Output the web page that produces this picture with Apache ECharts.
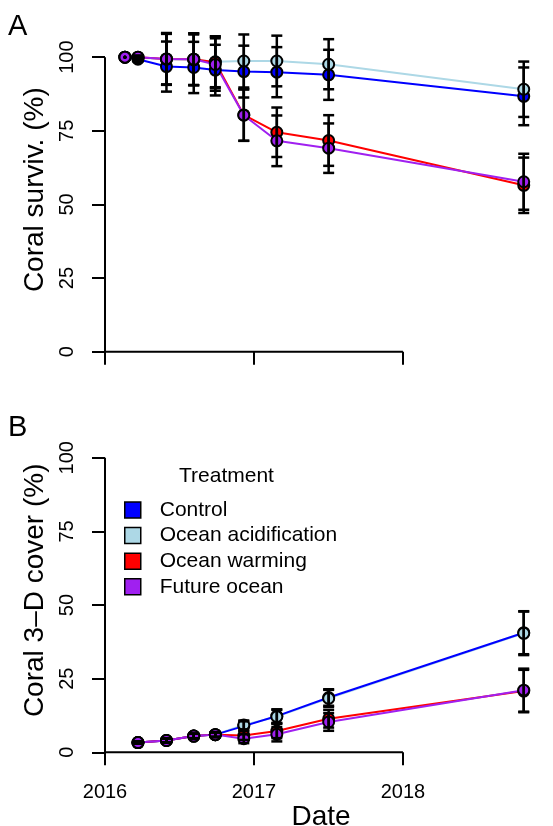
<!DOCTYPE html>
<html>
<head>
<meta charset="utf-8">
<script src="https://cdn.jsdelivr.net/npm/echarts@6/dist/echarts.min.js"></script>
<style>
  html, body { margin: 0; padding: 0; background: #fff; }
  #chart { width: 553px; height: 826px; }
</style>
</head>
<body>
<div id="chart"></div>
<script>
// Sampling dates of the experiment
const sampleDates = ['2016-02-19', '2016-03-22', '2016-05-31', '2016-08-06', '2016-09-28',
                     '2016-12-07', '2017-02-26', '2017-07-03', '2018-10-24'];

const treatments = ['Control', 'Ocean acidification', 'Ocean warming', 'Future ocean'];
const treatmentColors = ['#0000ff', '#add8e6', '#ff0000', '#a020f0'];

// Panel A: coral survival (%) – means and standard errors
const survControl   = [100, 99.3, 96.8, 96.5, 95.6, 95.1, 94.9, 94.0, 86.7];
const survAcid      = [100, 99.8, 99.3, 99.1, 98.4, 98.7, 98.7, 97.6, 89.1];
const survWarm      = [100, 100, 99.4, 99.3, 98.3, 80.4, 74.5, 71.7, 56.5];
const survFuture    = [100, 100, 99.4, 99.3, 97.5, 80.3, 71.6, 69.1, 57.7];
const survControlSe = [0, 0.7, 8.5, 8.7, 8.6, 8.8, 8.5, 8.5, 9.8];
const survAcidSe    = [0, 0.5, 8.6, 8.6, 8.6, 9.0, 8.6, 8.5, 9.4];
const survWarmSe    = [0, 0.5, 8.7, 8.8, 8.8, 8.8, 8.4, 8.6, 9.4];
const survFutureSe  = [0, 0.5, 8.8, 8.8, 8.9, 8.7, 8.6, 8.4, 9.5];

// Panel B: coral 3-D cover (%) – no measurement at the first date
const coverControl   = [null, 3.3, 4.0, 5.5, 6.0, 8.9, 12.3, 18.6, 40.6];
const coverAcid      = [null, 3.3, 4.0, 5.5, 6.0, 9.3, 12.1, 18.3, 40.4];
const coverWarm      = [null, 3.3, 4.0, 5.5, 6.0, 5.7, 7.2, 11.4, 20.8];
const coverFuture    = [null, 3.3, 4.0, 5.5, 6.0, 4.6, 6.1, 10.3, 21.1];
const coverControlSe = [null, 0.4, 0.7, 0.8, 0.8, 1.6, 2.3, 2.8, 7.3];
const coverAcidSe    = [null, 0.4, 0.7, 0.8, 0.8, 1.5, 2.3, 2.9, 7.4];
const coverWarmSe    = [null, 0.4, 0.7, 0.8, 0.8, 1.5, 2.4, 3.0, 7.2];
const coverFutureSe  = [null, 0.4, 0.7, 0.8, 0.8, 1.5, 2.4, 3.0, 7.3];

const yearTicks = [2016, 2017, 2018];
const percentTicks = [0, 25, 50, 75, 100];

const FONT = '"Liberation Sans", Arial, Helvetica, sans-serif';

// Date string -> fractional year
function toYear(s) {
  const [y, m, d] = s.split('-').map(Number);
  const start = Date.UTC(y, 0, 1), end = Date.UTC(y + 1, 0, 1);
  return y + (Date.UTC(y, m - 1, d) - start) / (end - start);
}
const xs = sampleDates.map(toYear);

const panels = [
  { means: [survControl, survAcid, survWarm, survFuture],
    ses: [survControlSe, survAcidSe, survWarmSe, survFutureSe] },
  { means: [coverControl, coverAcid, coverWarm, coverFuture],
    ses: [coverControlSe, coverAcidSe, coverWarmSe, coverFutureSe] }
];

function pairs(vals) {
  const out = [];
  vals.forEach((v, i) => { if (v != null) out.push([xs[i], v]); });
  return out;
}
function triples(vals, ses) {
  const out = [];
  vals.forEach((v, i) => { if (v != null) out.push([xs[i], v, ses[i]]); });
  return out;
}

// Vertical standard-error bar with end caps; a zero-width bar leaves a dot
function errorBar(params, api) {
  const x = api.value(0), v = api.value(1), e = api.value(2);
  if (!(e > 0)) {
    const c = api.coord([x, v]);
    return { type: 'circle', shape: { cx: c[0], cy: c[1], r: 1.6 }, style: { fill: '#000' } };
  }
  const hi = api.coord([x, v + e]);
  const lo = api.coord([x, v - e]);
  const st = { stroke: '#000', lineWidth: 2.5 };
  const cap = 5.5;
  return {
    type: 'group',
    children: [
      { type: 'line', shape: { x1: hi[0], y1: hi[1], x2: lo[0], y2: lo[1] }, style: st },
      { type: 'line', shape: { x1: hi[0] - cap, y1: hi[1], x2: hi[0] + cap, y2: hi[1] }, style: st },
      { type: 'line', shape: { x1: lo[0] - cap, y1: lo[1], x2: lo[0] + cap, y2: lo[1] }, style: st }
    ]
  };
}

const series = [];
const lineOrder = [1, 0, 2, 3];
panels.forEach((p, pi) => {
  // R-style axis lines spanning only the labelled range
  series.push({
    type: 'line', xAxisIndex: pi, yAxisIndex: pi, silent: true, clip: false,
    symbol: 'none', z: 6, lineStyle: { color: '#000', width: 2 },
    data: [[yearTicks[0], percentTicks[percentTicks.length - 1]], [yearTicks[0], 0], [yearTicks[yearTicks.length - 1], 0]]
  });
  lineOrder.forEach(k => {
    series.push({
      name: treatments[k], type: 'line', xAxisIndex: pi, yAxisIndex: pi,
      symbol: 'none', z: 2, silent: true,
      lineStyle: { color: treatmentColors[k], width: 2 },
      itemStyle: { color: treatmentColors[k] },
      data: pairs(p.means[k])
    });
  });
  treatments.forEach((name, k) => {
    series.push({
      name, type: 'scatter', xAxisIndex: pi, yAxisIndex: pi,
      symbol: 'circle', symbolSize: 11, z: 3, silent: true,
      itemStyle: { color: treatmentColors[k], borderColor: '#000', borderWidth: 2, opacity: 1 },
      data: pairs(p.means[k])
    });
  });
  treatments.forEach((name, k) => {
    series.push({
      type: 'custom', xAxisIndex: pi, yAxisIndex: pi, z: 4, silent: true,
      renderItem: errorBar, encode: { x: 0, y: 1 },
      data: triples(p.means[k], p.ses[k])
    });
  });
});

function xAxisFor(idx, showLabels) {
  return {
    type: 'value', gridIndex: idx, min: 2016, max: 2018.9,
    axisLine: { show: false }, splitLine: { show: false },
    axisTick: { customValues: yearTicks, length: 13, lineStyle: { color: '#000', width: 2 } },
    axisLabel: { show: showLabels, customValues: yearTicks, fontSize: 20, color: '#000',
                 fontFamily: FONT, margin: 30, formatter: v => String(v) },
    name: showLabels ? 'Date' : '', nameLocation: 'middle', nameGap: 50,
    nameTextStyle: { fontSize: 28, color: '#000', fontFamily: FONT }
  };
}
function yAxisFor(idx, title) {
  return {
    type: 'value', gridIndex: idx, min: 0, max: 110,
    axisLine: { show: false }, splitLine: { show: false },
    axisTick: { customValues: percentTicks, length: 13, lineStyle: { color: '#000', width: 2 } },
    axisLabel: { customValues: percentTicks, rotate: 90, fontSize: 20, color: '#000',
                 fontFamily: FONT, margin: 28 },
    name: title, nameLocation: 'middle', nameGap: 51,
    nameTextStyle: { fontSize: 28, color: '#000', fontFamily: FONT }
  };
}

const option = {
  animation: false,
  backgroundColor: '#fff',
  textStyle: { fontFamily: FONT },
  title: [
    { text: 'A', left: 8, top: 12, padding: 0, textStyle: { fontSize: 29, fontWeight: 'normal', color: '#000', fontFamily: FONT } },
    { text: 'B', left: 8, top: 413, padding: 0, textStyle: { fontSize: 29, fontWeight: 'normal', color: '#000', fontFamily: FONT } },
    { text: 'Treatment', left: 179, top: 466, padding: 0, textStyle: { fontSize: 21, fontWeight: 'normal', color: '#000', fontFamily: FONT } }
  ],
  legend: {
    orient: 'vertical', left: 124, top: 499.5, padding: 0,
    itemWidth: 16, itemHeight: 16, itemGap: 4.6, icon: 'rect', selectedMode: false,
    textStyle: { fontSize: 21, lineHeight: 21, color: '#000', fontFamily: FONT, padding: [0, 0, 0, 14] },
    data: treatments.map((n, i) => ({
      name: n, icon: 'rect',
      itemStyle: { color: treatmentColors[i], borderColor: '#000', borderWidth: 1.5 }
    }))
  },
  grid: [
    { left: 105, top: 27.7, width: 432, height: 324, outerBoundsMode: 'none' },
    { left: 105, top: 428.3, width: 432, height: 324, outerBoundsMode: 'none' }
  ],
  xAxis: [xAxisFor(0, false), xAxisFor(1, true)],
  yAxis: [yAxisFor(0, 'Coral surviv. (%)'), yAxisFor(1, 'Coral 3\u2013D cover (%)')],
  series
};

const chart = echarts.init(document.getElementById('chart'), null, { renderer: 'canvas' });
chart.setOption(option);
</script>
</body>
</html>
